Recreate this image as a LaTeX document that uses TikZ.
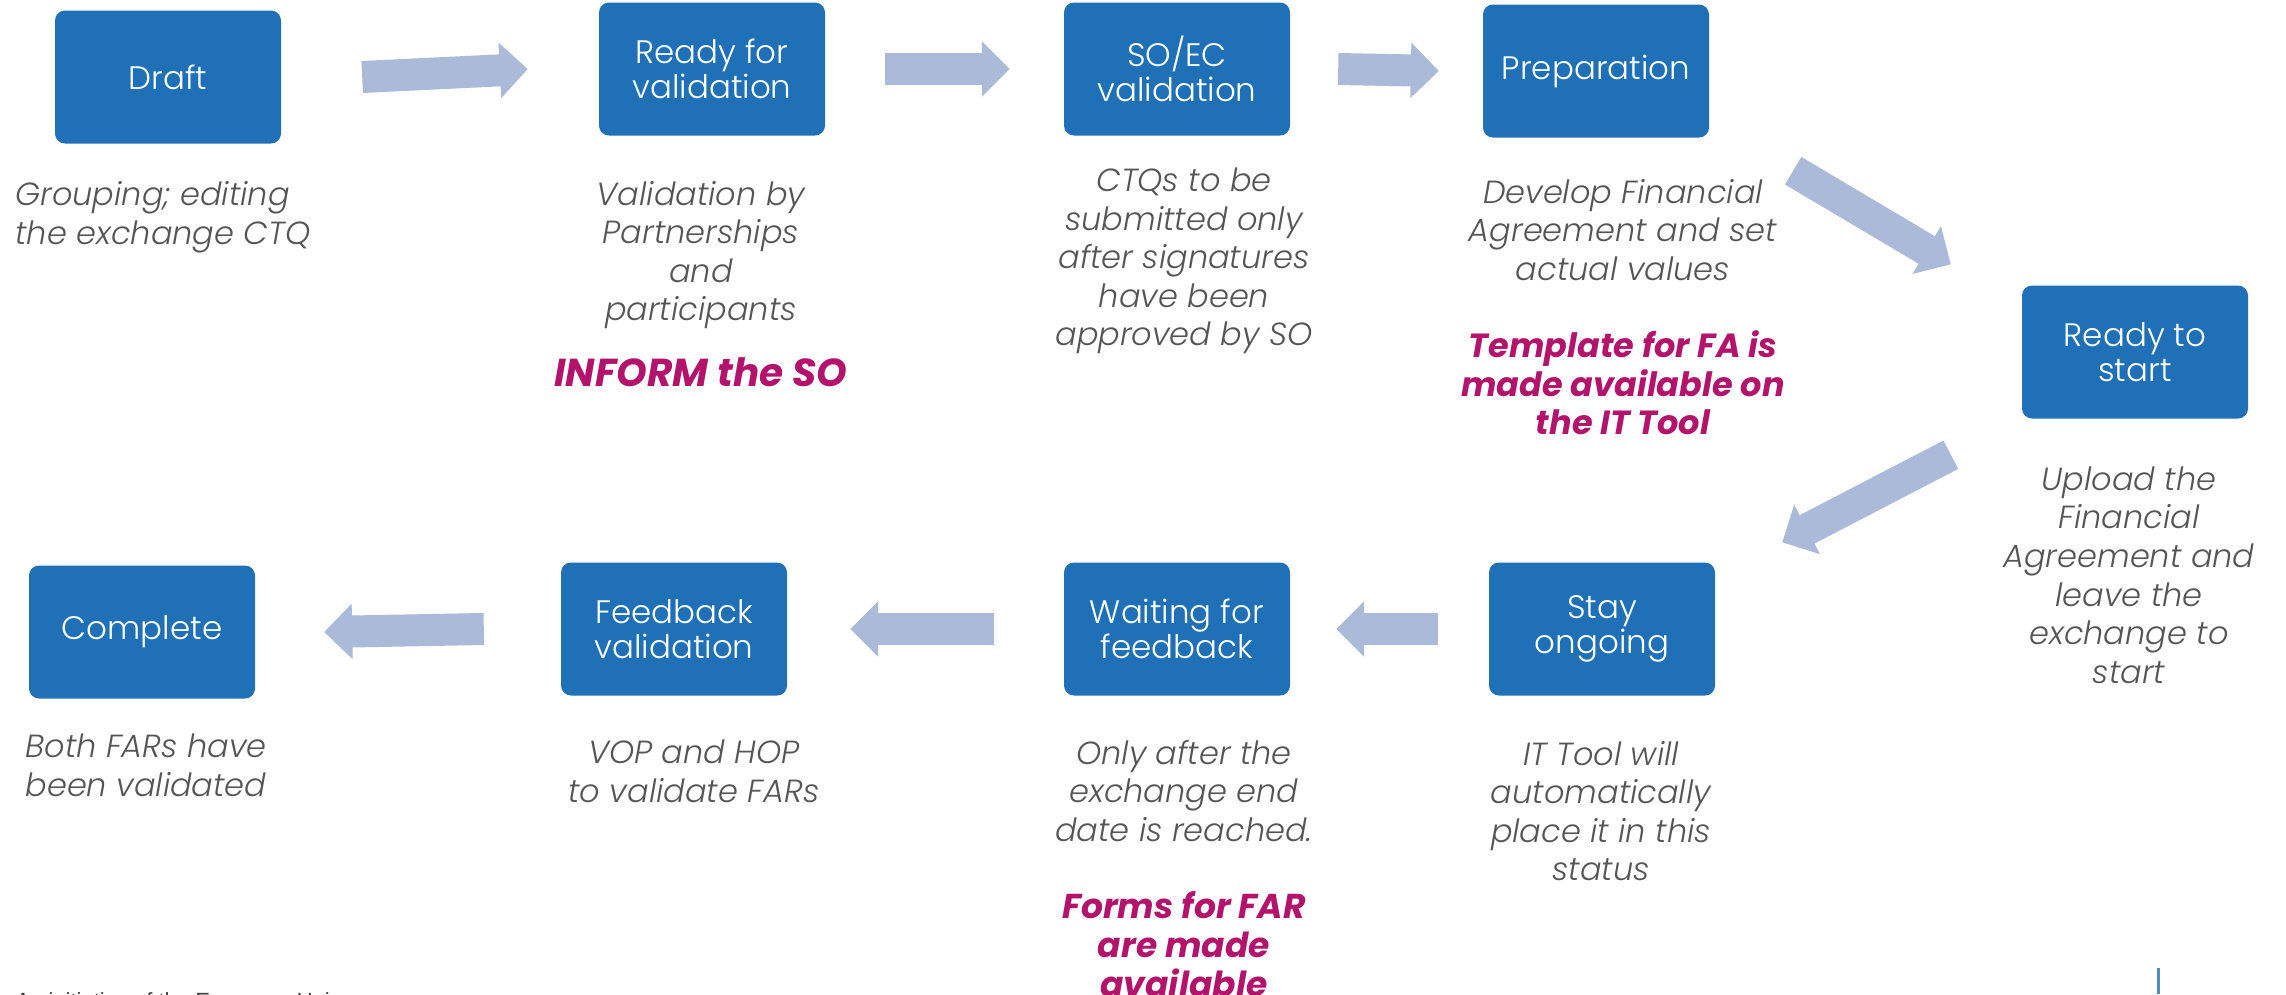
\documentclass[tikz,border=0pt]{standalone}
\usepackage{fontspec}
\setmainfont{Poppins}
\newfontfamily\lightfont{Poppins Light}[ItalicFont={Poppins Light Italic}]
\newfontfamily\footfont{Liberation Sans}
\usetikzlibrary{arrows.meta,positioning}

\definecolor{boxblue}{HTML}{1F70B6}
\definecolor{arrowblue}{HTML}{AABAD8}
\definecolor{descgrey}{HTML}{555555}
\definecolor{notecol}{HTML}{B3136B}

\begin{document}
\begin{tikzpicture}[x=1pt,y=-1pt,>={Triangle[length=28pt,width=54pt]},
  state/.style={fill=boxblue,rounded corners=10pt,minimum width=226pt,minimum height=133pt,
    text=white,align=center,font=\lightfont\fontsize{32.5}{35}\selectfont},
  desc/.style={align=center,text=descgrey,font=\lightfont\itshape\fontsize{32}{38.6}\selectfont},
  note/.style={align=center,text=notecol,font=\bfseries\itshape\fontsize{33.5}{38.3}\selectfont},
  flow/.style={->,arrowblue,line width=32pt}]
  \useasboundingbox (0,0) rectangle (2286,994);
  \clip (0,0) rectangle (2286,994);

  % top row
  \node[state] (draft) at (168,77)  {Draft};
  \node[state] (rfv)   at (712,69)  {Ready for\\validation};
  \node[state] (soec)  at (1177,69) {SO/EC\\validation};
  \node[state] (prep)  at (1596,71) {Preparation};
  % turning point
  \node[state] (rts)   at (2135,352) {Ready to\\start};
  % bottom row
  \node[state] (stay)  at (1602,629) {Stay\\ongoing};
  \node[state] (wait)  at (1177,629) {Waiting for\\feedback};
  \node[state] (fbv)   at (674,629)  {Feedback\\validation};
  \node[state] (done)  at (142,632)  {Complete};

  % flow arrows
  \draw[flow] ([xshift=81pt]draft.east) -- ([xshift=-71pt]rfv.west);
  \draw[flow] ([xshift=60pt]rfv.east) -- ([xshift=-54pt]soec.west);
  \draw[flow] ([xshift=48pt]soec.east) -- ([xshift=-44pt]prep.west);
  \draw[flow] ([shift={(84,33)}]prep.south east) -- ([shift={(-71,-21)}]rts.north west);
  \draw[flow] ([shift={(-71,36)}]rts.south west) -- ([shift={(67,-20)}]stay.north east);
  \draw[flow] ([xshift=-51pt]stay.west) -- ([xshift=46pt]wait.east);
  \draw[flow] ([xshift=-70pt]wait.west) -- ([xshift=63pt]fbv.east);
  \draw[flow] ([xshift=-77pt]fbv.west) -- ([xshift=69pt]done.east);

  % what happens in each status
  \node[desc,align=left,anchor=west] (d-draft) at (12,217) {Grouping; editing\\the exchange CTQ};
  \node[desc] (d-rfv)  at (701,255)  {Validation by\\Partnerships\\and\\participants};
  \node[desc] (d-soec) at (1184,261) {CTQs to be\\submitted only\\after signatures\\have been\\approved by SO};
  \node[desc] (d-prep) at (1623,230) {Develop Financial\\Agreement and set\\actual values};
  \node[desc] (d-rts)  at (2129,575) {Upload the\\Financial\\Agreement and\\leave the\\exchange to\\start};
  \node[desc] (d-stay) at (1601,811) {IT Tool will\\automatically\\place it in this\\status};
  \node[desc] (d-wait) at (1184,791) {Only after the\\exchange end\\date is reached.};
  \node[desc] (d-fbv)  at (694,771)  {VOP and HOP\\to validate FARs};
  \node[desc] (d-done) at (146,765)  {Both FARs have\\been validated};

  % highlighted notes
  \node[note,font=\bfseries\itshape\fontsize{39}{44}\selectfont] (n-rfv) at (701,372) {INFORM the SO};
  \node[note] (n-prep) at (1623,383) {Template for FA is\\made available on\\the IT Tool};
  \node[note,font=\bfseries\itshape\fontsize{34.5}{38.6}\selectfont] (n-wait) at (1184,944) {Forms for FAR\\are made\\available};

  % footer
  \node[anchor=base west,text=black!75,font=\footfont\fontsize{22}{26}\selectfont] (foot) at (12,1008) {An initiative of the European Union};
  \draw[boxblue!80,line width=3pt] (2158,968) -- (2158,994);
\end{tikzpicture}
\end{document}
